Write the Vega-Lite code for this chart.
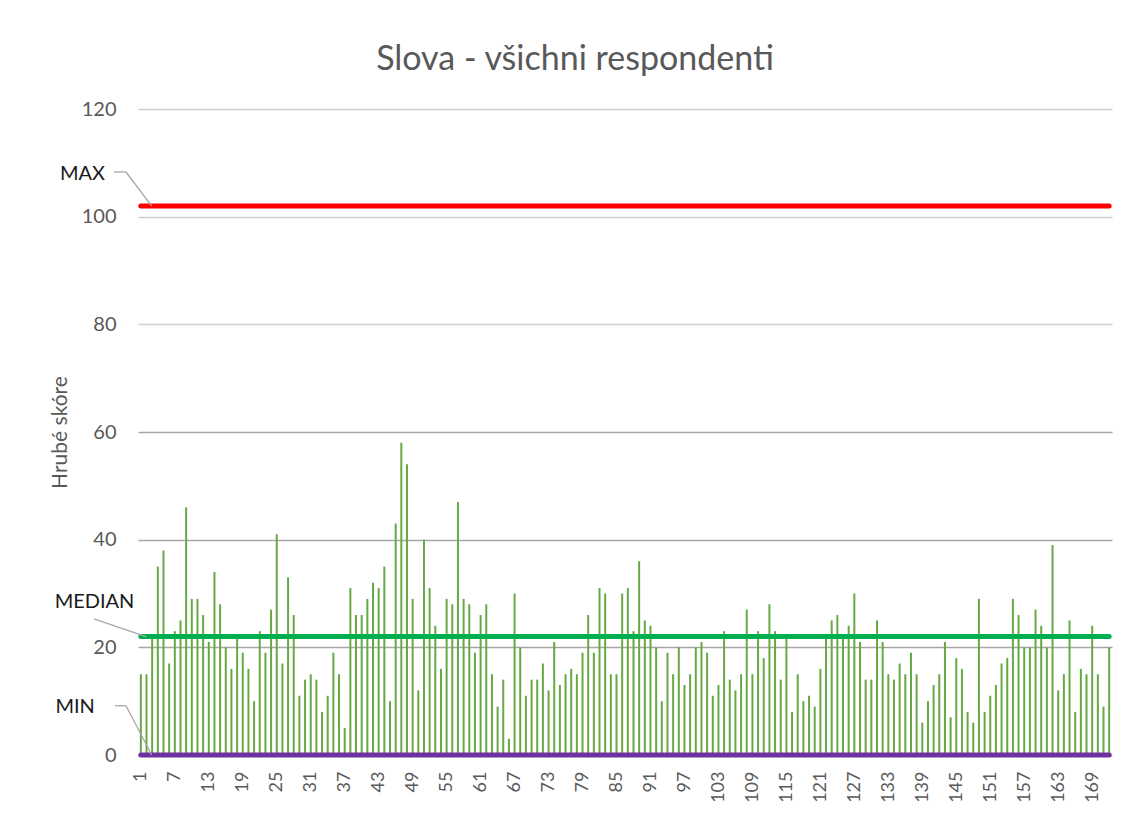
{
  "$schema": "https://vega.github.io/schema/vega-lite/v6.json",
  "autosize": {"type": "none"},
  "width": 974,
  "height": 646,
  "padding": {"left": 138, "top": 109, "right": 19, "bottom": 64},
  "background": "white",
  "title": {"text": "Slova - všichni respondenti", "fontSize": 34, "font": "Lato", "fontWeight": "normal", "color": "#595959", "anchor": "middle", "frame": "group", "dx": -50, "dy": 37, "offset": 32, "baseline": "alphabetic"},
  "config": {
    "view": {"stroke": null},
    "font": "Lato",
    "axisX": {"labelOverlap": false, "labelAngle": 270, "labelFontSize": 18, "labelColor": "#595959", "labelFont": "Lato", "labelPadding": 16, "ticks": false, "domain": false, "grid": false},
    "axisY": {"labelOverlap": false}
  },
  "datasets": {
    "scores": [
      {"respondent":1,"score":15},{"respondent":2,"score":15},{"respondent":3,"score":22},{"respondent":4,"score":35},{"respondent":5,"score":38},{"respondent":6,"score":17},{"respondent":7,"score":23},{"respondent":8,"score":25},{"respondent":9,"score":46},{"respondent":10,"score":29},
      {"respondent":11,"score":29},{"respondent":12,"score":26},{"respondent":13,"score":21},{"respondent":14,"score":34},{"respondent":15,"score":28},{"respondent":16,"score":20},{"respondent":17,"score":16},{"respondent":18,"score":22},{"respondent":19,"score":19},{"respondent":20,"score":16},
      {"respondent":21,"score":10},{"respondent":22,"score":23},{"respondent":23,"score":19},{"respondent":24,"score":27},{"respondent":25,"score":41},{"respondent":26,"score":17},{"respondent":27,"score":33},{"respondent":28,"score":26},{"respondent":29,"score":11},{"respondent":30,"score":14},
      {"respondent":31,"score":15},{"respondent":32,"score":14},{"respondent":33,"score":8},{"respondent":34,"score":11},{"respondent":35,"score":19},{"respondent":36,"score":15},{"respondent":37,"score":5},{"respondent":38,"score":31},{"respondent":39,"score":26},{"respondent":40,"score":26},
      {"respondent":41,"score":29},{"respondent":42,"score":32},{"respondent":43,"score":31},{"respondent":44,"score":35},{"respondent":45,"score":10},{"respondent":46,"score":43},{"respondent":47,"score":58},{"respondent":48,"score":54},{"respondent":49,"score":29},{"respondent":50,"score":12},
      {"respondent":51,"score":40},{"respondent":52,"score":31},{"respondent":53,"score":24},{"respondent":54,"score":16},{"respondent":55,"score":29},{"respondent":56,"score":28},{"respondent":57,"score":47},{"respondent":58,"score":29},{"respondent":59,"score":28},{"respondent":60,"score":19},
      {"respondent":61,"score":26},{"respondent":62,"score":28},{"respondent":63,"score":15},{"respondent":64,"score":9},{"respondent":65,"score":14},{"respondent":66,"score":3},{"respondent":67,"score":30},{"respondent":68,"score":20},{"respondent":69,"score":11},{"respondent":70,"score":14},
      {"respondent":71,"score":14},{"respondent":72,"score":17},{"respondent":73,"score":12},{"respondent":74,"score":21},{"respondent":75,"score":13},{"respondent":76,"score":15},{"respondent":77,"score":16},{"respondent":78,"score":15},{"respondent":79,"score":19},{"respondent":80,"score":26},
      {"respondent":81,"score":19},{"respondent":82,"score":31},{"respondent":83,"score":30},{"respondent":84,"score":15},{"respondent":85,"score":15},{"respondent":86,"score":30},{"respondent":87,"score":31},{"respondent":88,"score":23},{"respondent":89,"score":36},{"respondent":90,"score":25},
      {"respondent":91,"score":24},{"respondent":92,"score":20},{"respondent":93,"score":10},{"respondent":94,"score":19},{"respondent":95,"score":15},{"respondent":96,"score":20},{"respondent":97,"score":13},{"respondent":98,"score":15},{"respondent":99,"score":20},{"respondent":100,"score":21},
      {"respondent":101,"score":19},{"respondent":102,"score":11},{"respondent":103,"score":13},{"respondent":104,"score":23},{"respondent":105,"score":14},{"respondent":106,"score":12},{"respondent":107,"score":15},{"respondent":108,"score":27},{"respondent":109,"score":15},{"respondent":110,"score":23},
      {"respondent":111,"score":18},{"respondent":112,"score":28},{"respondent":113,"score":23},{"respondent":114,"score":14},{"respondent":115,"score":22},{"respondent":116,"score":8},{"respondent":117,"score":15},{"respondent":118,"score":10},{"respondent":119,"score":11},{"respondent":120,"score":9},
      {"respondent":121,"score":16},{"respondent":122,"score":22},{"respondent":123,"score":25},{"respondent":124,"score":26},{"respondent":125,"score":22},{"respondent":126,"score":24},{"respondent":127,"score":30},{"respondent":128,"score":21},{"respondent":129,"score":14},{"respondent":130,"score":14},
      {"respondent":131,"score":25},{"respondent":132,"score":21},{"respondent":133,"score":15},{"respondent":134,"score":14},{"respondent":135,"score":17},{"respondent":136,"score":15},{"respondent":137,"score":19},{"respondent":138,"score":15},{"respondent":139,"score":6},{"respondent":140,"score":10},
      {"respondent":141,"score":13},{"respondent":142,"score":15},{"respondent":143,"score":21},{"respondent":144,"score":7},{"respondent":145,"score":18},{"respondent":146,"score":16},{"respondent":147,"score":8},{"respondent":148,"score":6},{"respondent":149,"score":29},{"respondent":150,"score":8},
      {"respondent":151,"score":11},{"respondent":152,"score":13},{"respondent":153,"score":17},{"respondent":154,"score":18},{"respondent":155,"score":29},{"respondent":156,"score":26},{"respondent":157,"score":20},{"respondent":158,"score":20},{"respondent":159,"score":27},{"respondent":160,"score":24},
      {"respondent":161,"score":20},{"respondent":162,"score":39},{"respondent":163,"score":12},{"respondent":164,"score":15},{"respondent":165,"score":25},{"respondent":166,"score":8},{"respondent":167,"score":16},{"respondent":168,"score":15},{"respondent":169,"score":24},{"respondent":170,"score":15},
      {"respondent":171,"score":9},{"respondent":172,"score":20}
    ],
    "stats": [
      {"stat": "MAX", "value": 102},
      {"stat": "MEDIAN", "value": 22},
      {"stat": "MIN", "value": 0}
    ]
  },
  "layer": [
    {
      "data": {"name": "scores"},
      "mark": {"type": "bar", "width": 2, "color": "#66A944"},
      "encoding": {
        "x": {
          "field": "respondent", "type": "quantitative",
          "scale": {"domain": [0.5, 172.5], "nice": false, "zero": false, "padding": 0},
          "axis": {
            "title": null,
            "values": [1,7,13,19,25,31,37,43,49,55,61,67,73,79,85,91,97,103,109,115,121,127,133,139,145,151,157,163,169],
            "tickCount": 60,
            "labelOverlap": false
          }
        },
        "y": {
          "field": "score", "type": "quantitative",
          "scale": {"domain": [0, 120], "nice": false},
          "axis": {
            "title": "Hrubé skóre",
            "values": [0,20,40,60,80,100,120],
            "tickCount": 10,
            "labelFontSize": 20, "labelColor": "#595959", "labelFont": "Lato", "labelPadding": 22,
            "ticks": false, "domain": false, "grid": true,
            "gridColor": {"condition": {"test": "datum.value > 0 && datum.value <= 60", "value": "#A6A6A6"}, "value": "#D0D0D0"},
            "gridWidth": 1.3,
            "titleFontSize": 21, "titleFont": "Lato", "titleFontWeight": "normal", "titleColor": "#595959",
            "titleX": -78, "titleY": 323, "titleAngle": 270, "titleAlign": "center", "titleBaseline": "middle"
          }
        }
      }
    },
    {
      "data": {"name": "stats"},
      "mark": {"type": "rule", "strokeWidth": 5, "strokeCap": "round"},
      "encoding": {
        "x": {"datum": 1},
        "x2": {"datum": 172},
        "y": {"field": "value", "type": "quantitative"},
        "color": {"field": "stat", "type": "nominal", "scale": {"domain": ["MAX", "MEDIAN", "MIN"], "range": ["#FF0000", "#00B050", "#7030A0"]}, "legend": null}
      }
    },
    {
      "data": {"values": [{}]},
      "mark": {"type": "rule", "color": "#A6A6A6", "strokeWidth": 1.3},
      "encoding": {"x": {"datum": -3.74}, "x2": {"datum": -1.62}, "y": {"datum": 108.3}, "y2": {"datum": 108.3}}
    },
    {
      "data": {"values": [{}]},
      "mark": {"type": "rule", "color": "#A6A6A6", "strokeWidth": 1.3},
      "encoding": {"x": {"datum": -1.62}, "x2": {"datum": 2.92}, "y": {"datum": 108.3}, "y2": {"datum": 102}}
    },
    {
      "data": {"values": [{}]},
      "mark": {"type": "rule", "color": "#A6A6A6", "strokeWidth": 1.3},
      "encoding": {"x": {"datum": -7.27}, "x2": {"datum": 1.91}, "y": {"datum": 25.3}, "y2": {"datum": 22}}
    },
    {
      "data": {"values": [{}]},
      "mark": {"type": "rule", "color": "#A6A6A6", "strokeWidth": 1.3},
      "encoding": {"x": {"datum": -3.56}, "x2": {"datum": -1.62}, "y": {"datum": 9.16}, "y2": {"datum": 9.16}}
    },
    {
      "data": {"values": [{}]},
      "mark": {"type": "rule", "color": "#A6A6A6", "strokeWidth": 1.3},
      "encoding": {"x": {"datum": -1.62}, "x2": {"datum": 2.92}, "y": {"datum": 9.16}, "y2": {"datum": 0}}
    },
    {
      "data": {"values": [{}]},
      "mark": {"type": "text", "font": "Lato", "fontSize": 20, "color": "#1A1A1A", "align": "center", "baseline": "middle"},
      "encoding": {"x": {"datum": -9.3}, "y": {"datum": 107.9}, "text": {"value": "MAX"}}
    },
    {
      "data": {"values": [{}]},
      "mark": {"type": "text", "font": "Lato", "fontSize": 20, "color": "#1A1A1A", "align": "center", "baseline": "middle"},
      "encoding": {"x": {"datum": -7.18}, "y": {"datum": 28.5}, "text": {"value": "MEDIAN"}}
    },
    {
      "data": {"values": [{}]},
      "mark": {"type": "text", "font": "Lato", "fontSize": 20, "color": "#1A1A1A", "align": "center", "baseline": "middle"},
      "encoding": {"x": {"datum": -10.6}, "y": {"datum": 8.97}, "text": {"value": "MIN"}}
    }
  ]
}
